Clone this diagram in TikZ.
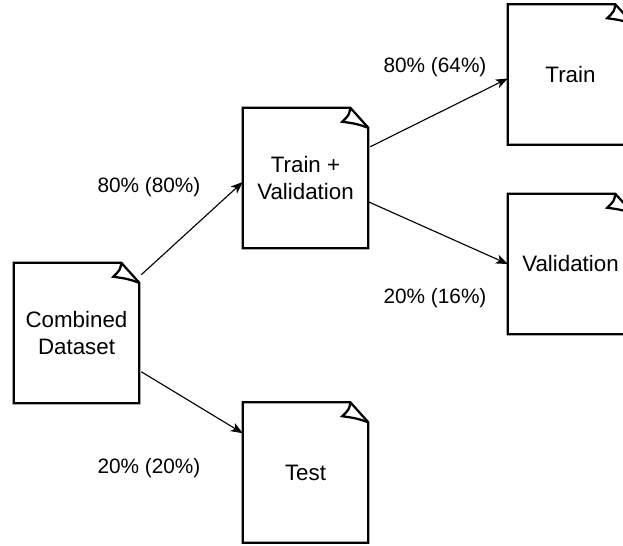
\documentclass[tikz,border=0pt]{standalone}
\usepackage{fontspec}
\setmainfont{Liberation Sans}
\usetikzlibrary{calc,arrows.meta}

\tikzset{
  x=0.75pt, y=-0.75pt,
  notebox/.style={rectangle, draw=none, minimum width=93.75pt, minimum height=105pt,
    inner sep=0pt, align=center, font=\fontsize{16.75pt}{20.75pt}\selectfont},
  noteline/.style={line width=1.7pt, line join=miter},
  link/.style={line width=0.85pt, -{Stealth[length=9pt, width=7pt, inset=2.5pt]}},
  pct/.style={font=\fontsize{15.6pt}{20pt}\selectfont, inner sep=0pt}
}

% outline of a sheet with a folded top-right corner
\newcommand{\notesheet}[1]{%
  \draw[noteline] (#1.south west) -- (#1.north west) -- ($(#1.north east)+(-18,0)$)
    -- ($(#1.north east)+(0,20)$) -- (#1.south east) -- cycle;
  \draw[noteline] ($(#1.north east)+(-18,0)$) .. controls ($(#1.north east)+(-19,7)$) ..
    ($(#1.north east)+(-26,14)$) .. controls ($(#1.north east)+(-12,16)$) ..
    ($(#1.north east)+(0,20)$);
}

\begin{document}
\begin{tikzpicture}
  \useasboundingbox (0,0) rectangle (623,545);
  \clip (0,0) rectangle (623,545);

  \node[notebox] (comb)  at (76.5,333)  {Combined\\Dataset};
  \node[notebox] (tv)    at (305.5,178) {Train +\\Validation};
  \node[notebox] (train) at (570.5,74.5) {Train};
  \node[notebox] (val)   at (570.5,264) {Validation};
  \node[notebox] (test)  at (305.5,472.5) {Test};

  \notesheet{comb}
  \notesheet{tv}
  \notesheet{train}
  \notesheet{val}
  \notesheet{test}

  \draw[link] ($(comb.north east)+(2,12)$) -- ($(tv.west)+(0,4)$);
  \draw[link] ($(comb.north east)+(2,109)$) -- ($(test.north west)+(0,31)$);
  \draw[link] ($(tv.north east)+(2,39)$) -- ($(train.west)+(0,4)$);
  \draw[link] ($(tv.north east)+(0,94)$) -- (val.west);

  \node[pct] (l1) at (149,187) {80\% (80\%)};
  \node[pct] (l2) at (149,468) {20\% (20\%)};
  \node[pct] (l3) at (435,67)  {80\% (64\%)};
  \node[pct] (l4) at (435,298) {20\% (16\%)};
\end{tikzpicture}
\end{document}
